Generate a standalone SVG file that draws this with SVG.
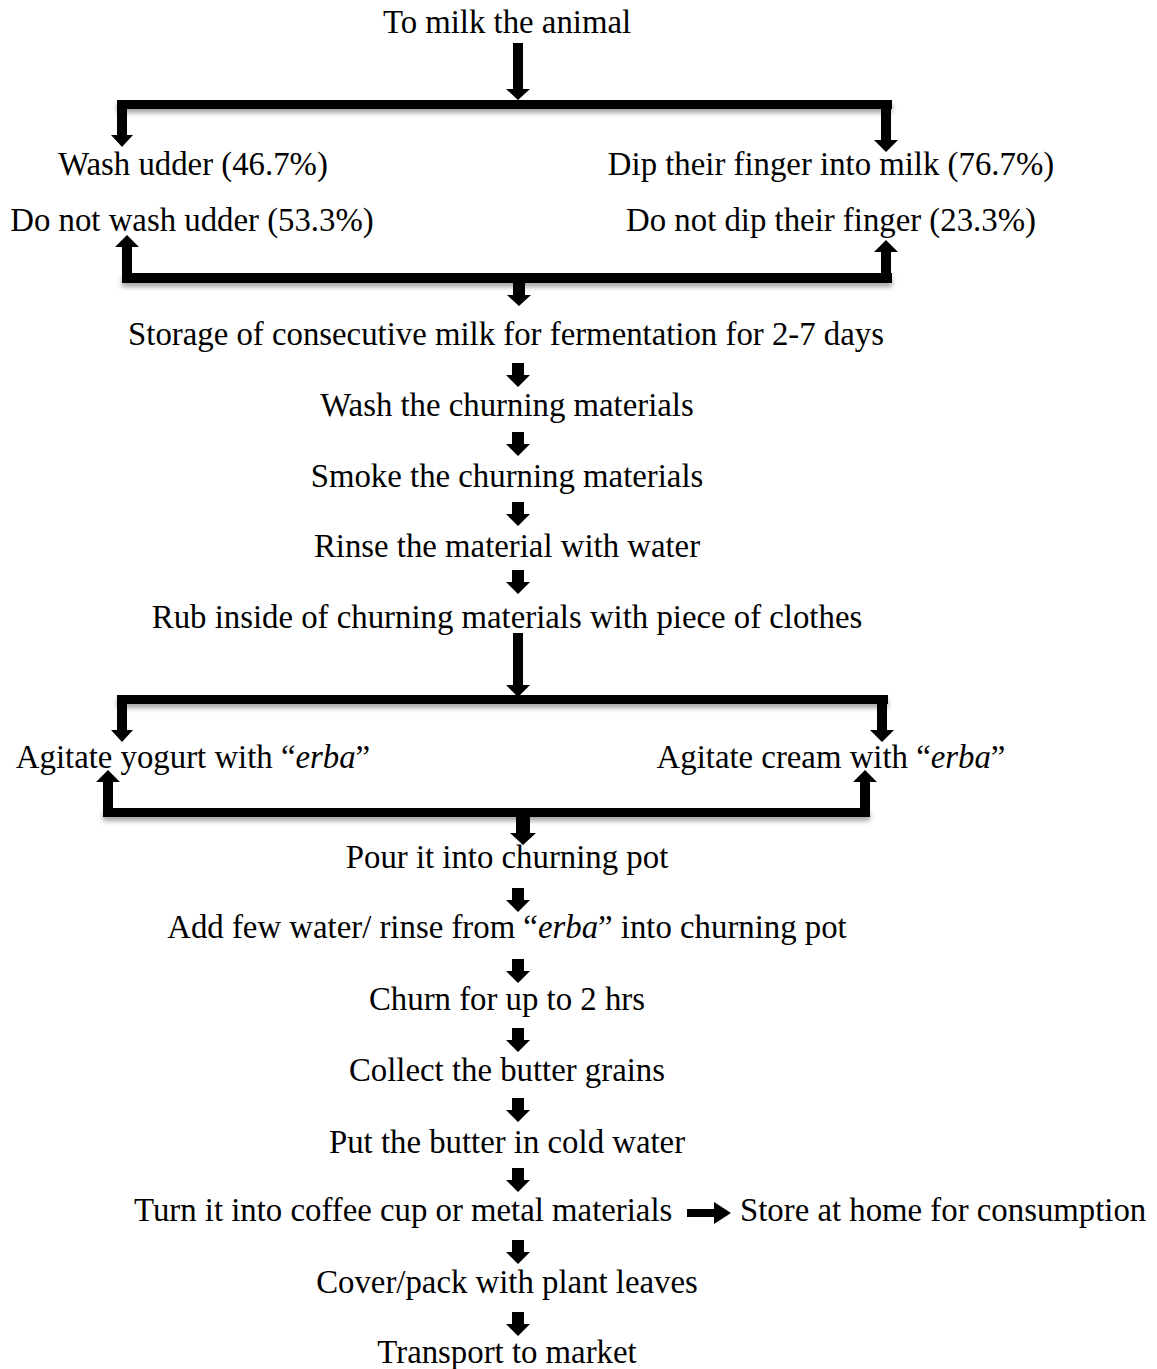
<svg xmlns="http://www.w3.org/2000/svg" width="1157" height="1369" viewBox="0 0 1157 1369">
<defs>
<style>
text{font-family:"Liberation Serif","Times New Roman",serif;font-size:32.8px;fill:#000}
.c{text-anchor:middle}
.a{fill:#000}
.bar{fill:#000;filter:url(#sh)}
</style>
<filter id="sh" x="-5%" y="-100%" width="110%" height="400%">
<feDropShadow dx="0" dy="4" stdDeviation="2.5" flood-color="#000" flood-opacity="0.35"/>
</filter>
</defs>
<rect width="1157" height="1369" fill="#fff"/>
<g id="connectors">
<path class="a" d="M513 43H523V89H530L518 100L506 89H513Z"/>
<rect class="bar" x="117" y="100" width="775" height="9"/>
<path class="a" d="M117 100H127V135H133L122 147L111 135H117Z"/>
<path class="a" d="M881 100H891V140H898L886 152L874 140H881Z"/>
<rect class="bar" x="122" y="273" width="770" height="10"/>
<path class="a" d="M122 283H132V247H139L127 235L115 247H122Z"/>
<path class="a" d="M881 283H891V252H898L886 240L874 252H881Z"/>
<path class="a" d="M513 283H525V295H531L519 306L507 295H513Z"/>
<path class="a" d="M512 363H524V375H530L518 387L506 375H512Z"/>
<path class="a" d="M512 432H524V444H530L518 456L506 444H512Z"/>
<path class="a" d="M512 502H524V514H530L518 526L506 514H512Z"/>
<path class="a" d="M512 570H524V582H530L518 594L506 582H512Z"/>
<path class="a" d="M513 633H523V685H530L518 697L506 685H513Z"/>
<rect class="bar" x="117" y="695" width="771" height="9"/>
<path class="a" d="M117 704H127V730H133L122 742L111 730H117Z"/>
<path class="a" d="M877 704H887V730H894L882 742L870 730H877Z"/>
<rect class="bar" x="103" y="808" width="767" height="9"/>
<path class="a" d="M103 808H113V782H120L108 770L96 782H103Z"/>
<path class="a" d="M860 808H870V782H877L865 770L853 782H860Z"/>
<path class="a" d="M516 817H530V833H536L523 845L510 833H516Z"/>
<path class="a" d="M512 888H524V900H530L518 912L506 900H512Z"/>
<path class="a" d="M512 959H524V971H530L518 983L506 971H512Z"/>
<path class="a" d="M512 1028H524V1040H530L518 1052L506 1040H512Z"/>
<path class="a" d="M512 1098H524V1110H530L518 1122L506 1110H512Z"/>
<path class="a" d="M512 1168H524V1180H530L518 1192L506 1180H512Z"/>
<path class="a" d="M687 1209H714V1202L731 1213L714 1224V1217H687Z"/>
<path class="a" d="M512 1240H524V1252H530L518 1264L506 1252H512Z"/>
<path class="a" d="M512 1312H524V1324H530L518 1336L506 1324H512Z"/>
</g>
<g id="n1"><text class="c" x="507" y="33">To milk the animal</text></g>
<g id="n2"><text class="c" x="193" y="175">Wash udder (46.7%)</text></g>
<g id="n3"><text class="c" x="192" y="231">Do not wash udder (53.3%)</text></g>
<g id="n4"><text class="c" x="831" y="175">Dip their finger into milk (76.7%)</text></g>
<g id="n5"><text class="c" x="831" y="231">Do not dip their finger (23.3%)</text></g>
<g id="n6"><text class="c" x="506" y="345">Storage of consecutive milk for fermentation for 2-7 days</text></g>
<g id="n7"><text class="c" x="507" y="416">Wash the churning materials</text></g>
<g id="n8"><text class="c" x="507" y="487">Smoke the churning materials</text></g>
<g id="n9"><text class="c" x="507" y="557">Rinse the material with water</text></g>
<g id="n10"><text class="c" x="507" y="628">Rub inside of churning materials with piece of clothes</text></g>
<g id="n11"><text class="c" x="193" y="768">Agitate yogurt with “<tspan font-style="italic">erba</tspan>”</text></g>
<g id="n12"><text class="c" x="831" y="768">Agitate cream with “<tspan font-style="italic">erba</tspan>”</text></g>
<g id="n13"><text class="c" x="507" y="868">Pour it into churning pot</text></g>
<g id="n14"><text class="c" x="507" y="938">Add few water/ rinse from “<tspan font-style="italic">erba</tspan>” into churning pot</text></g>
<g id="n15"><text class="c" x="507" y="1010">Churn for up to 2 hrs</text></g>
<g id="n16"><text class="c" x="507" y="1081">Collect the butter grains</text></g>
<g id="n17"><text class="c" x="507" y="1153">Put the butter in cold water</text></g>
<g id="n18"><text x="134" y="1221">Turn it into coffee cup or metal materials</text></g>
<g id="n19"><text x="740" y="1221">Store at home for consumption</text></g>
<g id="n20"><text class="c" x="507" y="1293">Cover/pack with plant leaves</text></g>
<g id="n21"><text class="c" x="507" y="1363">Transport to market</text></g>
</svg>
